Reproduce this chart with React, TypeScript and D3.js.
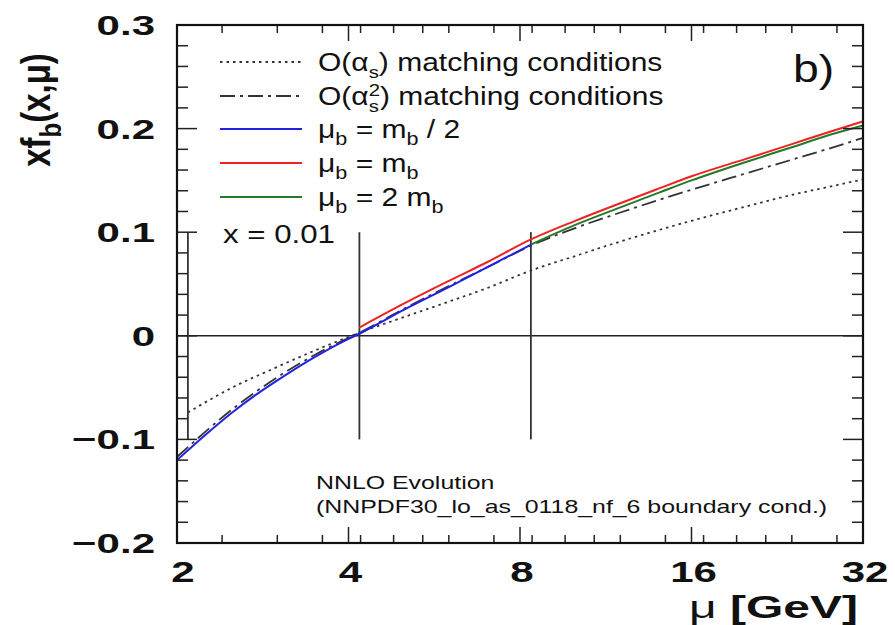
import React from "react";
import * as d3 from "d3";

// ---------- data ----------
const xTickValues = [2, 4, 8, 16, 32];
const xTickLabels = ["2", "4", "8", "16", "32"];
const xMinorTicks = [2.4, 3.0, 3.6, 4.2, 4.8, 5.4, 6.0, 7.2, 8.4, 9.6, 10.8, 12, 14.4, 16.8, 19.2, 21.6, 24, 28.8];
const yTickValues = [-0.2, -0.1, 0, 0.1, 0.2, 0.3];
const yTickLabels = ["\u22120.2", "\u22120.1", "0", "0.1", "0.2", "0.3"];
const yMinorStep = 0.02;

const thresholdMu = [2.09, 4.18, 8.36];
const thresholdSpan = [-0.1, 0.1];

const muDotted = [2.09, 2.5, 3, 3.5, 4.18, 5, 6, 7, 8.36, 10, 12, 14, 16, 20, 24, 28, 32];
const dottedVals = [-0.074, -0.05, -0.03, -0.014, 0.003, 0.018, 0.033, 0.046, 0.063, 0.077, 0.091, 0.102, 0.111, 0.125, 0.136, 0.144, 0.151];

const muDashDot = [2, 2.5, 3, 3.5, 4, 4.18, 5, 6, 7, 8.36, 10, 12, 14, 16, 20, 24, 28, 32];
const dashDotVals = [-0.117, -0.071, -0.04, -0.018, -0.002, 0.003, 0.026, 0.048, 0.066, 0.087, 0.104, 0.119, 0.131, 0.141, 0.157, 0.17, 0.181, 0.191];

const muBlue = [2, 2.25, 2.5, 2.75, 3, 3.5, 4, 4.18, 5, 6, 7, 8.36];
const blueVals = [-0.12, -0.095, -0.074, -0.057, -0.043, -0.02, -0.003, 0.002, 0.025, 0.047, 0.066, 0.088];

const muGreen = [8.36, 10, 12, 14, 16, 20, 24, 28, 32];
const greenVals = [0.088, 0.107, 0.124, 0.138, 0.15, 0.168, 0.182, 0.194, 0.203];

const muRed = [4.18, 5, 6, 7, 8.36, 10, 12, 14, 16, 20, 24, 28, 32];
const redVals = [0.008, 0.031, 0.053, 0.071, 0.093, 0.111, 0.128, 0.142, 0.154, 0.171, 0.185, 0.197, 0.207];

// ---------- layout ----------
const W = 895, H = 625;
const L = 177, R = 863, T = 25, B = 543;
const FONT = "'Liberation Sans', Arial, Helvetica, sans-serif";

const x = d3.scaleLog().domain([2, 32]).range([L, R]);
const y = d3.scaleLinear().domain([-0.2, 0.3]).range([B, T]);

const line = d3
  .line<[number, number]>()
  .x((d) => x(d[0]))
  .y((d) => y(d[1]))
  .curve(d3.curveMonotoneX);

const zip = (a: number[], b: number[]): [number, number][] => a.map((v, i) => [v, b[i]]);

function SText({ x, y, sx = 1, anchor = "start", size, weight = "normal", children, fill = "#111" }: any) {
  return (
    <g transform={`translate(${x},${y}) scale(${sx},1)`}>
      <text textAnchor={anchor} fontFamily={FONT} fontSize={size} fontWeight={weight} fill={fill}>
        {children}
      </text>
    </g>
  );
}

const curves = [
  { mu: muDotted, v: dottedVals, color: "#333", dash: "2.5,4", w: 1.8 },
  { mu: muDashDot, v: dashDotVals, color: "#333", dash: "15,5,3,5", w: 1.8 },
  { mu: muBlue, v: blueVals, color: "#2222e0", dash: null, w: 2 },
  { mu: muGreen, v: greenVals, color: "#247a2a", dash: null, w: 2 },
  { mu: muRed, v: redVals, color: "#ee2222", dash: null, w: 2 },
];

const legendRows = [
  { color: "#333", dash: "2.5,4", key: "as" },
  { color: "#333", dash: "15,5,3,5", key: "as2" },
  { color: "#2222e0", dash: null, key: "half" },
  { color: "#ee2222", dash: null, key: "one" },
  { color: "#247a2a", dash: null, key: "two" },
];
const legendY = [62, 96, 129, 163, 197];

function legendLabel(key: string) {
  switch (key) {
    case "as":
      return (
        <>
          O(α<tspan dy={7} fontSize={17}>s</tspan>
          <tspan dy={-7}>) matching conditions</tspan>
        </>
      );
    case "as2":
      return (
        <>
          O(α<tspan dy={7} fontSize={17}>s</tspan>
          <tspan dx={-8.5} dy={-16} fontSize={17}>2</tspan>
          <tspan dy={9}>) matching conditions</tspan>
        </>
      );
    case "half":
      return (
        <>
          μ<tspan dy={7} fontSize={18}>b</tspan>
          <tspan dy={-7}> = m</tspan>
          <tspan dy={7} fontSize={18}>b</tspan>
          <tspan dy={-7}> / 2</tspan>
        </>
      );
    case "one":
      return (
        <>
          μ<tspan dy={7} fontSize={18}>b</tspan>
          <tspan dy={-7}> = m</tspan>
          <tspan dy={7} fontSize={18}>b</tspan>
        </>
      );
    default:
      return (
        <>
          μ<tspan dy={7} fontSize={18}>b</tspan>
          <tspan dy={-7}> = 2 m</tspan>
          <tspan dy={7} fontSize={18}>b</tspan>
        </>
      );
  }
}

export default function App() {
  const yMinor = d3.range(Math.round(-0.2 / yMinorStep), Math.round(0.3 / yMinorStep) + 1).map((i) => ({
    v: i * yMinorStep,
    major: i % 5 === 0,
  }));

  return (
    <svg width={W} height={H} style={{ position: "absolute", left: 0, top: 0, background: "#fff" }}>
      <rect x={0} y={0} width={W} height={H} fill="#fff" />

      {/* zero line */}
      <line x1={L} x2={R} y1={y(0)} y2={y(0)} stroke="#222" strokeWidth={1.6} />

      {/* threshold lines */}
      {thresholdMu.map((m) => (
        <line key={m} x1={x(m)} x2={x(m)} y1={y(thresholdSpan[0])} y2={y(thresholdSpan[1])} stroke="#333" strokeWidth={1.8} />
      ))}

      {/* curves */}
      {curves.map((c, i) => (
        <path
          key={i}
          d={line(zip(c.mu, c.v)) || ""}
          fill="none"
          stroke={c.color}
          strokeWidth={c.w}
          strokeDasharray={c.dash || undefined}
        />
      ))}

      {/* y ticks */}
      {yMinor.map((t, i) => {
        const len = t.major ? 20 : 11;
        const yy = y(t.v);
        return (
          <g key={i}>
            <line x1={L} x2={L + len} y1={yy} y2={yy} stroke="#222" strokeWidth={1.5} />
            <line x1={R} x2={R - len} y1={yy} y2={yy} stroke="#222" strokeWidth={1.5} />
          </g>
        );
      })}
      {/* x ticks */}
      {xMinorTicks.map((m) => (
        <g key={m}>
          <line x1={x(m)} x2={x(m)} y1={B} y2={B - 8} stroke="#222" strokeWidth={1.5} />
          <line x1={x(m)} x2={x(m)} y1={T} y2={T + 8} stroke="#222" strokeWidth={1.5} />
        </g>
      ))}
      {xTickValues.map((m) => (
        <g key={m}>
          <line x1={x(m)} x2={x(m)} y1={B} y2={B - 16} stroke="#222" strokeWidth={1.5} />
          <line x1={x(m)} x2={x(m)} y1={T} y2={T + 16} stroke="#222" strokeWidth={1.5} />
        </g>
      ))}

      {/* frame */}
      <rect x={L} y={T} width={R - L} height={B - T} fill="none" stroke="#111" strokeWidth={2.2} />

      {/* y tick labels */}
      {yTickValues.map((v, i) => (
        <SText key={v} x={155} y={y(v) + 10} sx={1.5} anchor="end" size={28} weight="bold">
          {yTickLabels[i]}
        </SText>
      ))}
      {/* x tick labels */}
      {xTickValues.map((v, i) => (
        <SText key={v} x={x(v) + (i === 0 ? 6 : 2)} y={582} sx={1.45} anchor="middle" size={29} weight="bold">
          {xTickLabels[i]}
        </SText>
      ))}

      {/* axis titles */}
      <g transform={`translate(50,110) scale(1.25,1) rotate(-90)`}>
        <text textAnchor="middle" fontFamily={FONT} fontSize={33} fontWeight="bold" fill="#111">
          xf<tspan dy={9} fontSize={24}>b</tspan>
          <tspan dy={-9}>(x,μ)</tspan>
        </text>
      </g>
      <SText x={858} y={618} sx={1.5} anchor="end" size={32} weight="bold">
        <tspan fontWeight="normal">μ</tspan> [GeV]
      </SText>

      {/* legend */}
      {legendRows.map((r, i) => (
        <g key={r.key}>
          <line x1={220} x2={302} y1={legendY[i]} y2={legendY[i]} stroke={r.color} strokeWidth={2} strokeDasharray={r.dash || undefined} />
          <SText x={318} y={legendY[i] + 9} sx={1.2} size={25}>
            {legendLabel(r.key)}
          </SText>
        </g>
      ))}

      <SText x={223} y={243} sx={1.25} size={25}>
        x = 0.01
      </SText>
      <SText x={793} y={82} sx={1.22} size={38}>
        b)
      </SText>

      <SText x={316} y={489} sx={1.31} size={19}>
        NNLO Evolution
      </SText>
      <SText x={316} y={513} sx={1.31} size={19}>
        (NNPDF30_lo_as_0118_nf_6 boundary cond.)
      </SText>
    </svg>
  );
}
